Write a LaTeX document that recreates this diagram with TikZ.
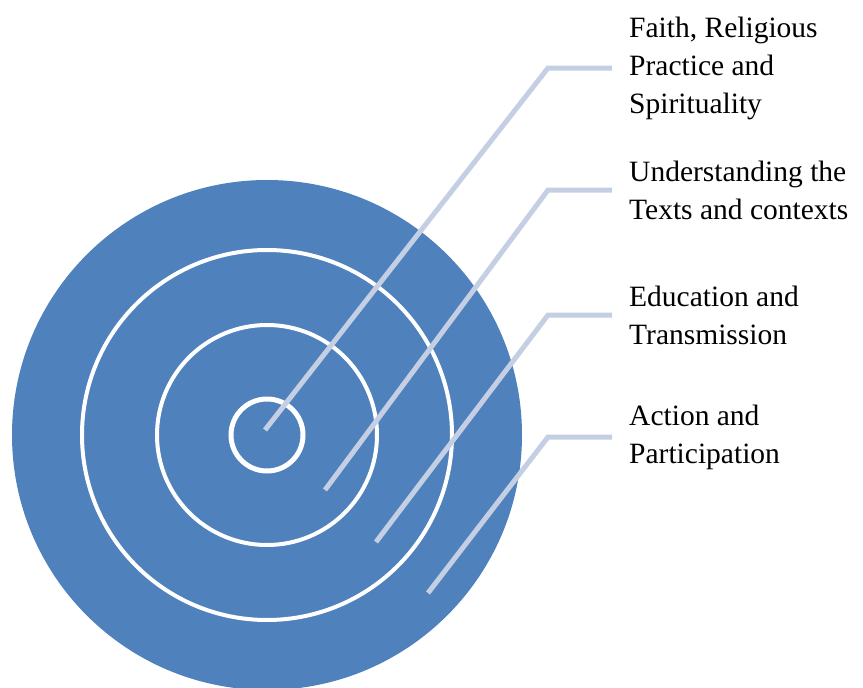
\documentclass[tikz,border=0pt]{standalone}
\usepackage{fontspec}
\setmainfont{Liberation Serif}
\definecolor{ringblue}{HTML}{4F81BD}
\definecolor{leadgrey}{HTML}{C5CFE3}
\begin{document}
\begin{tikzpicture}[x=1pt,y=-1pt,
    ring/.style={draw=white,line width=4pt},
    leader/.style={draw=leadgrey,line width=5pt},
    lbl/.style={anchor=west,align=left,inner xsep=17pt,inner ysep=0pt,
      font=\fontsize{29.5}{38}\selectfont}]
  \useasboundingbox (0,0) rectangle (863,688);
  \clip (0,0) rectangle (863,688);
  \fill[ringblue] (267,435) circle (255);
  \draw[ring] (267,435) circle (185);
  \draw[ring] (267,435) circle (110);
  \draw[ring,line width=5pt] (267,435) circle (36);
  \draw
    (612,68) node[lbl] (faith){Faith, Religious\\Practice and\\Spirituality}
    (612,190) node[lbl] (texts){Understanding the\\Texts and contexts}
    (612,315) node[lbl] (educ){Education and\\Transmission}
    (612,437) node[lbl] (action){Action and\\Participation};
  \coordinate (f0) at (265,430);
  \coordinate (t0) at (325,490);
  \coordinate (e0) at (376,542);
  \coordinate (a0) at (428,593);
  \begin{scope}[leader]
    \draw (f0) -- (548,68) -- (faith.west);
    \draw (t0) -- (548,190) -- (texts.west);
    \draw (e0) -- (548,315) -- (educ.west);
    \draw (a0) -- (548,437) -- (action.west);
  \end{scope}
\end{tikzpicture}
\end{document}
